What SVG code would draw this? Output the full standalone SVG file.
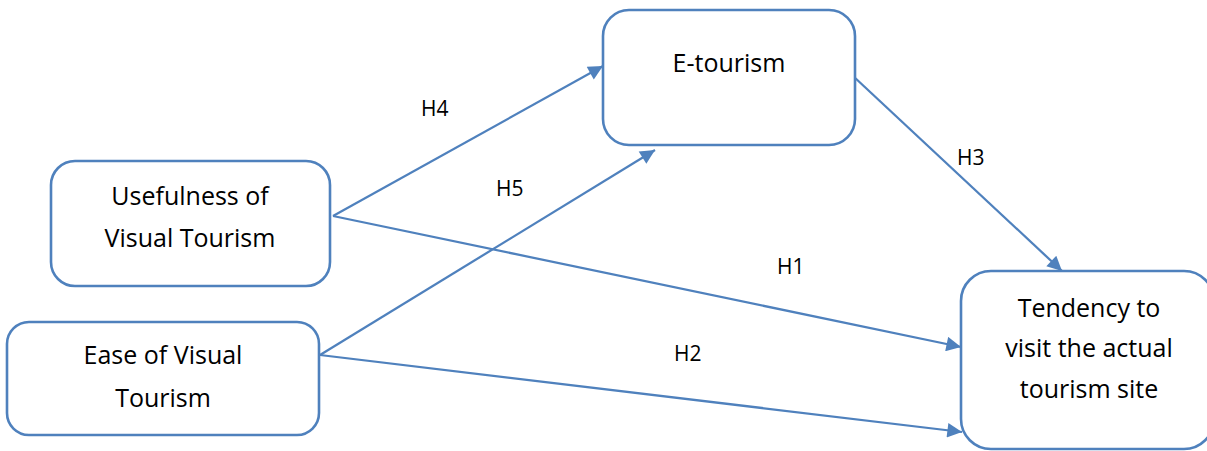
<svg xmlns="http://www.w3.org/2000/svg" width="1207" height="451" viewBox="0 0 1207 451">
<defs>
<style>
.box{fill:#fff;stroke:#4f81bd;stroke-width:2.6}
.t{font-family:"Open Sans","Liberation Sans",sans-serif;font-size:25px;fill:#000;text-anchor:middle}
.lbl{font-family:"Open Sans","Liberation Sans",sans-serif;font-size:21px;fill:#000}
.c{stroke:#4f81bd;stroke-width:2.25;fill:none;marker-end:url(#ah)}
</style>
<marker id="ah" viewBox="0 0 10 10" refX="10" refY="5" markerWidth="7.5" markerHeight="6.5" markerUnits="strokeWidth" orient="auto">
<path d="M0,0 L10,5 L0,10 z" fill="#4f81bd"/>
</marker>
</defs>
<rect width="1207" height="451" fill="#fff"/>
<g id="connectors">
<line class="c" x1="333" y1="216" x2="603" y2="66"/>
<line class="c" x1="320" y1="355" x2="655" y2="150"/>
<line class="c" x1="853" y1="76" x2="1062" y2="271"/>
<line class="c" x1="333" y1="216" x2="961" y2="347"/>
<line class="c" x1="320" y1="355" x2="962" y2="432"/>
</g>
<g id="labels">
<text class="lbl" x="421" y="116">H4</text>
<text class="lbl" x="496" y="196">H5</text>
<text class="lbl" x="957" y="165">H3</text>
<text class="lbl" x="777" y="274">H1</text>
<text class="lbl" x="674" y="361">H2</text>
</g>
<g id="etourism">
<rect class="box" x="603" y="10" width="252" height="135" rx="26"/>
<text class="t" x="729" y="72">E-tourism</text>
</g>
<g id="usefulness">
<rect class="box" x="51" y="161" width="279" height="125" rx="24"/>
<text class="t" x="190" y="205">Usefulness of</text>
<text class="t" x="190" y="247">Visual Tourism</text>
</g>
<g id="ease">
<rect class="box" x="7" y="322" width="312" height="113" rx="22"/>
<text class="t" x="163" y="364">Ease of Visual</text>
<text class="t" x="163" y="407">Tourism</text>
</g>
<g id="tendency">
<rect class="box" x="961" y="271" width="253" height="178" rx="30"/>
<text class="t" x="1089" y="317">Tendency to</text>
<text class="t" x="1089" y="357">visit the actual</text>
<text class="t" x="1089" y="398">tourism site</text>
</g>
</svg>
